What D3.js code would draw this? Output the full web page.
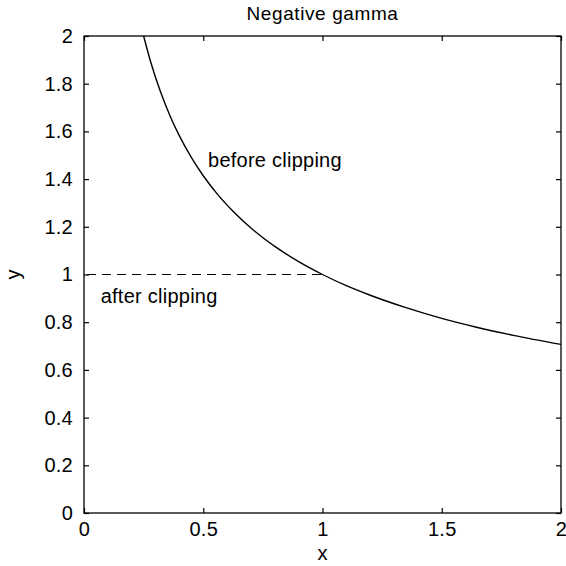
<!DOCTYPE html>
<html><head><meta charset="utf-8">
<script src="https://cdn.jsdelivr.net/npm/d3@7"></script>
<style>body{margin:0;background:#fff}svg{display:block}text{font-family:"Liberation Sans",Arial,sans-serif;fill:#000}</style>
</head><body>
<svg id="c" width="566" height="566"></svg>
<script>
const xTicks = [0, 0.5, 1, 1.5, 2];
const yTicks = [0, 0.2, 0.4, 0.6, 0.8, 1, 1.2, 1.4, 1.6, 1.8, 2];
const curveX = [0.25, 0.28, 0.32, 0.36, 0.4, 0.45, 0.5, 0.56, 0.63, 0.7, 0.8, 0.9, 1.0, 1.1, 1.2, 1.35, 1.5, 1.65, 1.8, 2.0];
const curveY = [2.0, 1.89, 1.768, 1.667, 1.581, 1.491, 1.414, 1.336, 1.26, 1.195, 1.118, 1.054, 1.0, 0.953, 0.913, 0.861, 0.816, 0.778, 0.745, 0.707];
const clipX = [0, 1];
const clipY = [1, 1];
const labels = [{t:"before clipping", x:0.52, y:1.45}, {t:"after clipping", x:0.07, y:0.88}];

const svg = d3.select("#c");
const L=84, R=561, T=36, B=513;
const x = d3.scaleLinear().domain([0,2]).range([L,R]);
const y = d3.scaleLinear().domain([0,2]).range([B,T]);
const fs = 20;
const ls = "0.25px";

const g = svg.append("g");
g.append("rect").attr("x",L).attr("y",T).attr("width",R-L).attr("height",B-T)
 .attr("fill","none").attr("stroke","#000").attr("stroke-width",1.3);

const axB = d3.axisBottom(x).tickValues(xTicks).tickSize(-5).tickPadding(9).tickFormat(d3.format("~g"));
const axT = d3.axisTop(x).tickValues(xTicks).tickSize(-5).tickFormat("");
const axL = d3.axisLeft(y).tickValues(yTicks).tickSize(-5).tickPadding(11).tickFormat(d3.format("~g"));
const axR = d3.axisRight(y).tickValues(yTicks).tickSize(-5).tickFormat("");
function style(sel){sel.select(".domain").remove();sel.selectAll("line").attr("stroke","#000").attr("stroke-width",1.2);sel.selectAll("text").style("font-size",fs+"px").style("letter-spacing",ls).attr("font-family","Liberation Sans, Arial, sans-serif");}
svg.append("g").attr("transform",`translate(0,${B})`).call(axB).call(style);
svg.append("g").attr("transform",`translate(0,${T})`).call(axT).call(style);
svg.append("g").attr("transform",`translate(${L},0)`).call(axL).call(style);
svg.append("g").attr("transform",`translate(${R},0)`).call(axR).call(style);

const line = d3.line().x(d=>x(d[0])).y(d=>y(d[1])).curve(d3.curveMonotoneX);
svg.append("path").datum(curveX.map((v,i)=>[v,curveY[i]])).attr("d",line)
 .attr("fill","none").attr("stroke","#000").attr("stroke-width",1.4);
svg.append("path").datum(clipX.map((v,i)=>[v,clipY[i]])).attr("d",d3.line().x(d=>x(d[0])).y(d=>y(d[1])))
 .attr("fill","none").attr("stroke","#000").attr("stroke-width",1.2).attr("stroke-dasharray","9,6").attr("stroke-dashoffset","-3");

labels.forEach(l=>svg.append("text").attr("x",x(l.x)).attr("y",y(l.y)).style("font-size",fs+"px").style("letter-spacing",ls).text(l.t));

svg.append("text").attr("x",(L+R)/2).attr("y",20).attr("text-anchor","middle").style("font-size","19px").style("letter-spacing","0.6px").text("Negative gamma");
svg.append("text").attr("x",(L+R)/2).attr("y",560).attr("text-anchor","middle").style("font-size",fs+"px").text("x");
svg.append("text").attr("transform",`translate(20,${(T+B)/2}) rotate(-90)`).attr("text-anchor","middle").style("font-size",fs+"px").text("y");
</script>
</body></html>
